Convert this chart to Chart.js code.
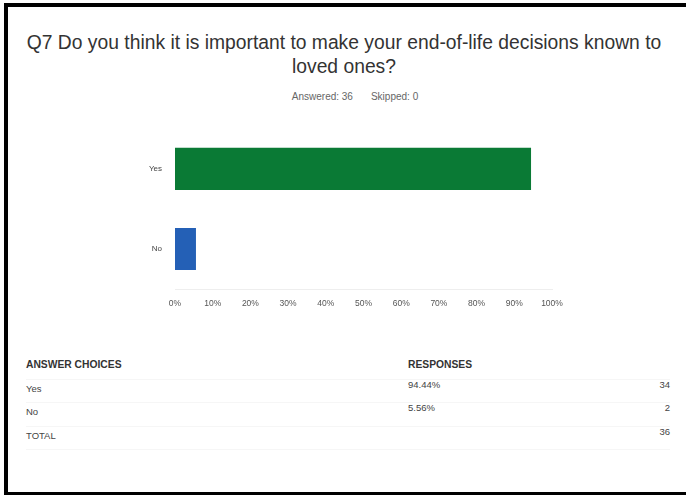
<!DOCTYPE html>
<html>
<head>
<meta charset="utf-8">
<script src="https://cdn.jsdelivr.net/npm/chart.js@4/dist/chart.umd.min.js"></script>
<style>
  html, body { margin: 0; padding: 0; background: #fff; }
  body { width: 686px; height: 495px; position: relative; overflow: hidden;
         font-family: "Liberation Sans", Arial, sans-serif; }
  .frame-top { position: absolute; left: 4px; top: 3px; width: 682px; height: 4px; background: #000; }
  .frame-left { position: absolute; left: 4px; top: 3px; width: 4px; height: 492px; background: #000; }
  .frame-bottom { position: absolute; left: 4px; top: 492px; width: 682px; height: 3px; background: #000; }
  .title { position: absolute; left: 1px; width: 686px; top: 31px; text-align: center;
           font-size: 19.3px; line-height: 24px; color: #333; white-space: nowrap; }
  .stats { position: absolute; left: 20px; width: 670px; top: 91px; text-align: center;
           font-size: 10px; color: #666; }
  .stats span { margin: 0 9px; }
  #chartBox { position: absolute; left: 0; top: 111px; width: 686px; height: 204px; }
  .tbl { position: absolute; left: 26px; top: 356px; width: 644px; font-size: 9.5px; color: #444; }
  .row { position: relative; height: 22.5px; border-bottom: 1px solid #f6f6f6; }
  .row div { position: absolute; top: 3px; }
  .row .c2, .row .c3 { top: -1px; }
  .head div, .head .c2, .head .c3 { top: 3px; }
  .c1 { left: 0; }
  .c2 { left: 382px; }
  .c3 { right: 0; text-align: right; }
  .head { font-weight: bold; color: #333; font-size: 10.3px; }
</style>
</head>
<body>
<div class="frame-top"></div>
<div class="frame-left"></div>
<div class="frame-bottom"></div>

<div class="title">Q7 Do you think it is important to make your end-of-life decisions known to<br>loved ones?</div>
<div class="stats"><span>Answered: 36</span><span>Skipped: 0</span></div>

<div id="chartBox"><canvas id="chart"></canvas></div>

<div class="tbl" id="tbl"></div>

<script>
// Survey answers
const categories = ['Yes', 'No'];
const percents = [94.44, 5.56];
const counts = [34, 2];
const totalCount = 36;
const barColors = ['#0a7a35', '#2460b6'];
const axisTicks = [0, 10, 20, 30, 40, 50, 60, 70, 80, 90, 100];

// Responses table
const tbl = document.getElementById('tbl');
function addRow(a, b, c, cls) {
  const r = document.createElement('div');
  r.className = 'row' + (cls ? ' ' + cls : '');
  r.innerHTML = '<div class="c1">' + a + '</div><div class="c2">' + b + '</div><div class="c3">' + c + '</div>';
  tbl.appendChild(r);
}
addRow('ANSWER CHOICES', 'RESPONSES', '', 'head');
categories.forEach((cat, i) => addRow(cat, percents[i].toFixed(2) + '%', counts[i]));
addRow('TOTAL', '', totalCount);

// Horizontal bar chart
new Chart(document.getElementById('chart'), {
  type: 'bar',
  data: {
    labels: categories,
    datasets: [{
      data: percents,
      backgroundColor: barColors,
      borderWidth: 0,
      barPercentage: 0.525,
      categoryPercentage: 1
    }]
  },
  options: {
    indexAxis: 'y',
    responsive: true,
    maintainAspectRatio: false,
    animation: false,
    layout: { padding: { top: 0, right: 134, left: 0, bottom: 0 } },
    plugins: { legend: { display: false }, tooltip: { enabled: false } },
    scales: {
      x: {
        min: 0, max: 100,
        afterBuildTicks: (s) => { s.ticks = axisTicks.map(v => ({ value: v })); },
        afterFit: (s) => { s.height = 26; },
        grid: { display: false, drawTicks: false },
        border: { display: true, color: '#eeeeee', width: 1 },
        ticks: {
          padding: 10,
          color: '#555',
          font: { family: 'Liberation Sans, Arial, sans-serif', size: 8.5 },
          maxRotation: 0,
          callback: (v) => v + '%'
        }
      },
      y: {
        afterFit: (s) => { s.width = 175; },
        grid: { display: false, drawTicks: false },
        border: { display: false },
        ticks: {
          padding: 13,
          color: '#444',
          font: { family: 'Liberation Sans, Arial, sans-serif', size: 8 }
        }
      }
    }
  }
});
</script>
</body>
</html>
